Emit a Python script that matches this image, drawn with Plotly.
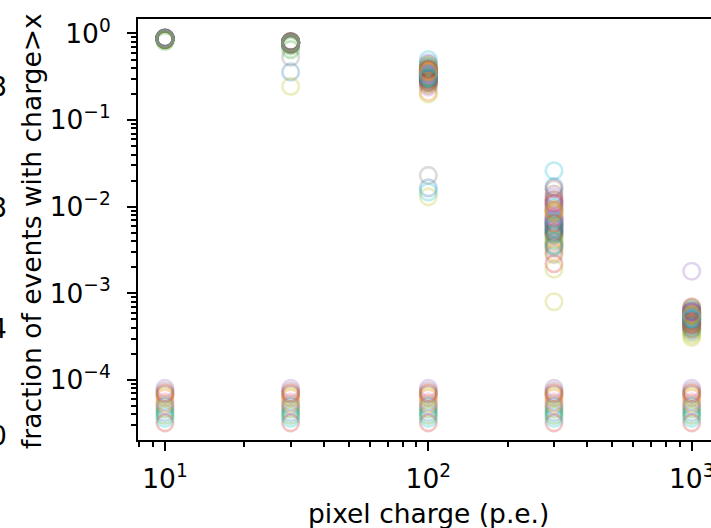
import plotly.graph_objects as go

# pixel charge thresholds (p.e.)
charges = [10, 30, 100, 300, 1000]

# fraction of events with charge > x, one entry per event series, per threshold
frac_q10 = [0.88, 0.87, 0.86, 0.88, 0.87, 0.89, 0.87, 0.88, 0.86, 0.87,
            0.87, 0.88, 0.81, 0.86, 0.88, 0.87, 0.86, 0.89, 0.87, 0.88,
            0.86, 0.87, 0.84, 0.88, 0.87, 0.86, 0.88, 0.87, 0.85, 0.88,
            0.87, 0.88, 0.86, 0.87, 0.88, 0.86, 0.87, 0.89, 0.87, 0.86,
            0.88, 0.87, 0.86, 0.88, 0.87, 0.85, 0.88, 0.87, 0.86, 0.88]
frac_q30 = [0.36, 0.78, 0.65, 0.79, 0.77, 0.80, 0.78, 0.53, 0.245, 0.76,
            0.79, 0.77, 0.72, 0.80, 0.78, 0.75, 0.79, 0.77, 0.78, 0.80,
            0.77, 0.79, 0.74, 0.78, 0.76, 0.81, 0.77, 0.79, 0.78, 0.76,
            0.78, 0.77, 0.79, 0.76, 0.78, 0.80, 0.77, 0.79, 0.75, 0.78,
            0.77, 0.79, 0.78, 0.76, 0.80, 0.78, 0.77, 0.79, 0.78, 0.77]
frac_q100 = [0.0165, 0.21, 0.30, 0.36, 0.33, 0.40, 0.29, 0.023, 0.013, 0.0148,
             0.44, 0.31, 0.27, 0.38, 0.35, 0.42, 0.32, 0.28, 0.37, 0.50,
             0.34, 0.26, 0.39, 0.30, 0.46, 0.36, 0.24, 0.33, 0.20, 0.41,
             0.31, 0.35, 0.29, 0.38, 0.33, 0.27, 0.36, 0.31, 0.43, 0.34,
             0.30, 0.37, 0.32, 0.28, 0.35, 0.39, 0.33, 0.25, 0.36, 0.31]
frac_q300 = [0.0035, 0.0062, 0.0048, 0.0110, 0.0075, 0.0140, 0.0052, 0.0090, 0.0008, 0.0260,
             0.0170, 0.0058, 0.0040, 0.0120, 0.0068, 0.0160, 0.0045, 0.0028, 0.0082, 0.0100,
             0.0055, 0.0030, 0.0065, 0.0022, 0.0130, 0.0072, 0.0038, 0.0095, 0.0019, 0.0050,
             0.0060, 0.0085, 0.0047, 0.0110, 0.0066, 0.0052, 0.0078, 0.0120, 0.0042, 0.0070,
             0.0056, 0.0092, 0.0036, 0.0064, 0.0105, 0.0050, 0.0074, 0.0033, 0.0088, 0.0061]
frac_q1000 = [0.00050, 0.00045, 0.00040, 0.00055, 0.00180, 0.00062, 0.00048, 0.00058, 0.00031, 0.00036,
              0.00052, 0.00044, 0.00068, 0.00038, 0.00060, 0.00065, 0.00047, 0.00054, 0.00033, 0.00042,
              0.00057, 0.00049, 0.00039, 0.00070, 0.00046, 0.00051, 0.00043, 0.00059, 0.00035, 0.00053,
              0.00049, 0.00056, 0.00044, 0.00061, 0.00052, 0.00047, 0.00058, 0.00041, 0.00054, 0.00050,
              0.00063, 0.00046, 0.00055, 0.00043, 0.00060, 0.00048, 0.00053, 0.00045, 0.00057, 0.00051]

# series whose fraction stays at a constant floor value
floor_frac = [4.2e-5, 6.2e-5, 4.6e-5, 3.2e-5, 8.0e-5, 7.4e-5, 5.6e-5, 6.8e-5, 6.5e-5, 3.6e-5,
              5.0e-5, 5.3e-5, 3.9e-5, 7.0e-5]

x_tick_vals = [10, 100, 1000]
x_tick_text = ["10<sup>1</sup>", "10<sup>2</sup>", "10<sup>3</sup>"]
y_tick_vals = [1e-4, 1e-3, 1e-2, 1e-1, 1]
y_tick_text = ["10<sup>\u22124</sup>", "10<sup>\u22123</sup>", "10<sup>\u22122</sup>",
               "10<sup>\u22121</sup>", "10<sup>0</sup>"]
edge_fragments = ["8", "8", "4", "0"]
edge_fragment_y = [87, 208, 328, 435]

tab10 = ["#1f77b4", "#ff7f0e", "#2ca02c", "#d62728", "#9467bd",
         "#8c564b", "#e377c2", "#7f7f7f", "#bcbd22", "#17becf"]

series = [list(v) for v in zip(frac_q10, frac_q30, frac_q100, frac_q300, frac_q1000)]
series += [[f] * len(charges) for f in floor_frac]

fig = go.Figure()
for i, ys in enumerate(series):
    fig.add_trace(go.Scatter(
        x=charges, y=ys, mode="markers",
        marker=dict(symbol="circle-open", size=16.5, color=tab10[i % 10],
                    opacity=0.28, line=dict(width=2.6, color=tab10[i % 10])),
        showlegend=False, hoverinfo="x+y",
    ))

W, H = 711, 528
L, R, T, B = 138, 0, 19, 88
pw, ph = W - L - R, H - T - B

minor_x = [m * 10 ** k for k in range(0, 4) for m in range(2, 10)]
minor_y = [m * 10 ** k for k in range(-5, 1) for m in range(2, 10)]

font = dict(family="DejaVu Sans", size=26.5, color="black")

fig.update_layout(
    width=W, height=H,
    margin=dict(l=L, r=R, t=T, b=B, pad=0),
    paper_bgcolor="white", plot_bgcolor="white",
    font=font,
    xaxis=dict(
        type="log", range=[0.8975, 3.0733], automargin=False,
        showline=True, linecolor="black", linewidth=2, mirror=True,
        showgrid=False, zeroline=False,
        tickmode="array", tickvals=x_tick_vals, ticktext=x_tick_text,
        ticks="outside", ticklen=9, tickwidth=2, tickcolor="black",
        ticklabelstandoff=5, ticklabeloverflow="allow",
        minor=dict(tickmode="array", tickvals=minor_x, ticks="outside",
                   ticklen=5, tickwidth=1.5, tickcolor="black", showgrid=False),
        tickfont=font,
    ),
    yaxis=dict(
        type="log", range=[-4.693, 0.167], automargin=False,
        showline=True, linecolor="black", linewidth=2, mirror=False,
        showgrid=False, zeroline=False,
        tickmode="array", tickvals=y_tick_vals, ticktext=y_tick_text,
        ticks="outside", ticklen=9, tickwidth=2, tickcolor="black",
        ticklabelstandoff=11, ticklabeloverflow="allow",
        minor=dict(tickmode="array", tickvals=minor_y, ticks="outside",
                   ticklen=5, tickwidth=1.5, tickcolor="black", showgrid=False),
        tickfont=font,
    ),
)

def px_to_paper_x(px):
    return (px - L) / pw

def px_to_paper_y(py):
    return 1 - (py - T) / ph

fig.add_annotation(text="pixel charge (p.e.)", xref="paper", yref="paper",
                   x=px_to_paper_x(428), y=px_to_paper_y(513), xanchor="center",
                   yanchor="middle", showarrow=False, font=font)
fig.add_annotation(text="fraction of events with charge>x", xref="paper", yref="paper",
                   x=px_to_paper_x(31), y=px_to_paper_y(231), xanchor="center",
                   yanchor="middle", textangle=-90, showarrow=False, font=font)
for txt, yy in zip(edge_fragments, edge_fragment_y):
    fig.add_annotation(text=txt, xref="paper", yref="paper",
                       x=px_to_paper_x(9), y=px_to_paper_y(yy), xanchor="right",
                       yanchor="middle", showarrow=False, font=font)

fig.write_html("out.html", config={"displayModeBar": False},
               post_script="document.body.style.margin='0';document.body.style.overflow='hidden';")
